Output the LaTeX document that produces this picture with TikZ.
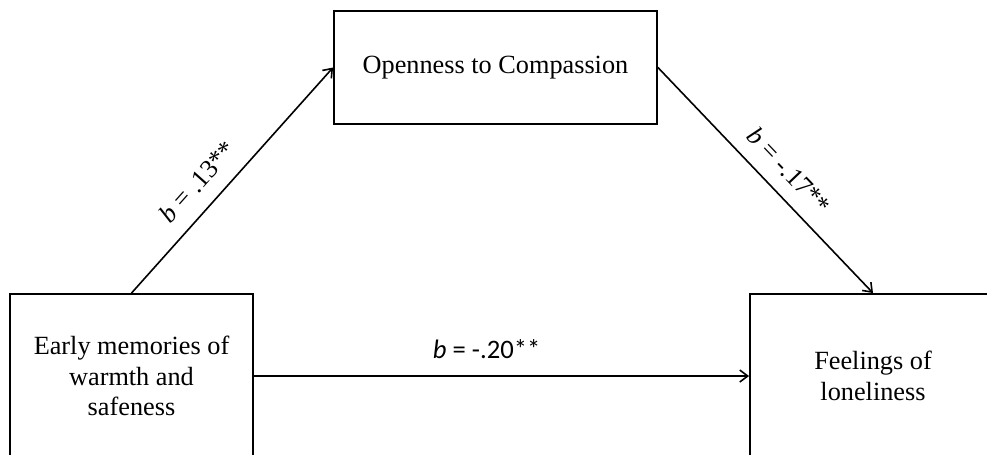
\documentclass[tikz,border=0pt]{standalone}
\usepackage{fontspec}
\setmainfont{Liberation Serif}
\newfontfamily\calibrifont{Carlito}
\usetikzlibrary{arrows.meta}

\begin{document}
\begin{tikzpicture}[x=0.75pt,y=-0.75pt,>={Straight Barb[length=6pt,width=9pt]},
  box/.style={draw,line width=1.4pt,align=center,font=\fontsize{19.7}{23}\selectfont},
  path/.style={->,line width=1.2pt},
  coef/.style={font=\fontsize{19.5}{22}\selectfont}]
\useasboundingbox (0,0) rectangle (987,454);
\node[box,minimum width=242.25pt,minimum height=84.75pt] (a) at (495.5,67.5) {Openness to Compassion};
\node[box,minimum width=182.25pt,minimum height=123pt] (b) at (131.5,376) {Early memories of\\warmth and\\safeness};
\node[box,minimum width=184.5pt,minimum height=123pt] (c) at (873,376) {Feelings of\\loneliness};
\draw[path] (b.north)--(a.west) node[coef,pos=0.42,sloped,above=8pt] {\textit{b} = .13**};
\draw[path] (a.east)--(c.north) node[coef,pos=0.53,sloped,above=7pt] {\textit{b} = -.17**};
\draw[path] (b.east)--(c.west) node[pos=0.47,above=9pt,font=\calibrifont\fontsize{20}{24}\selectfont] {\textit{b} = -.20**};
\end{tikzpicture}
\end{document}
